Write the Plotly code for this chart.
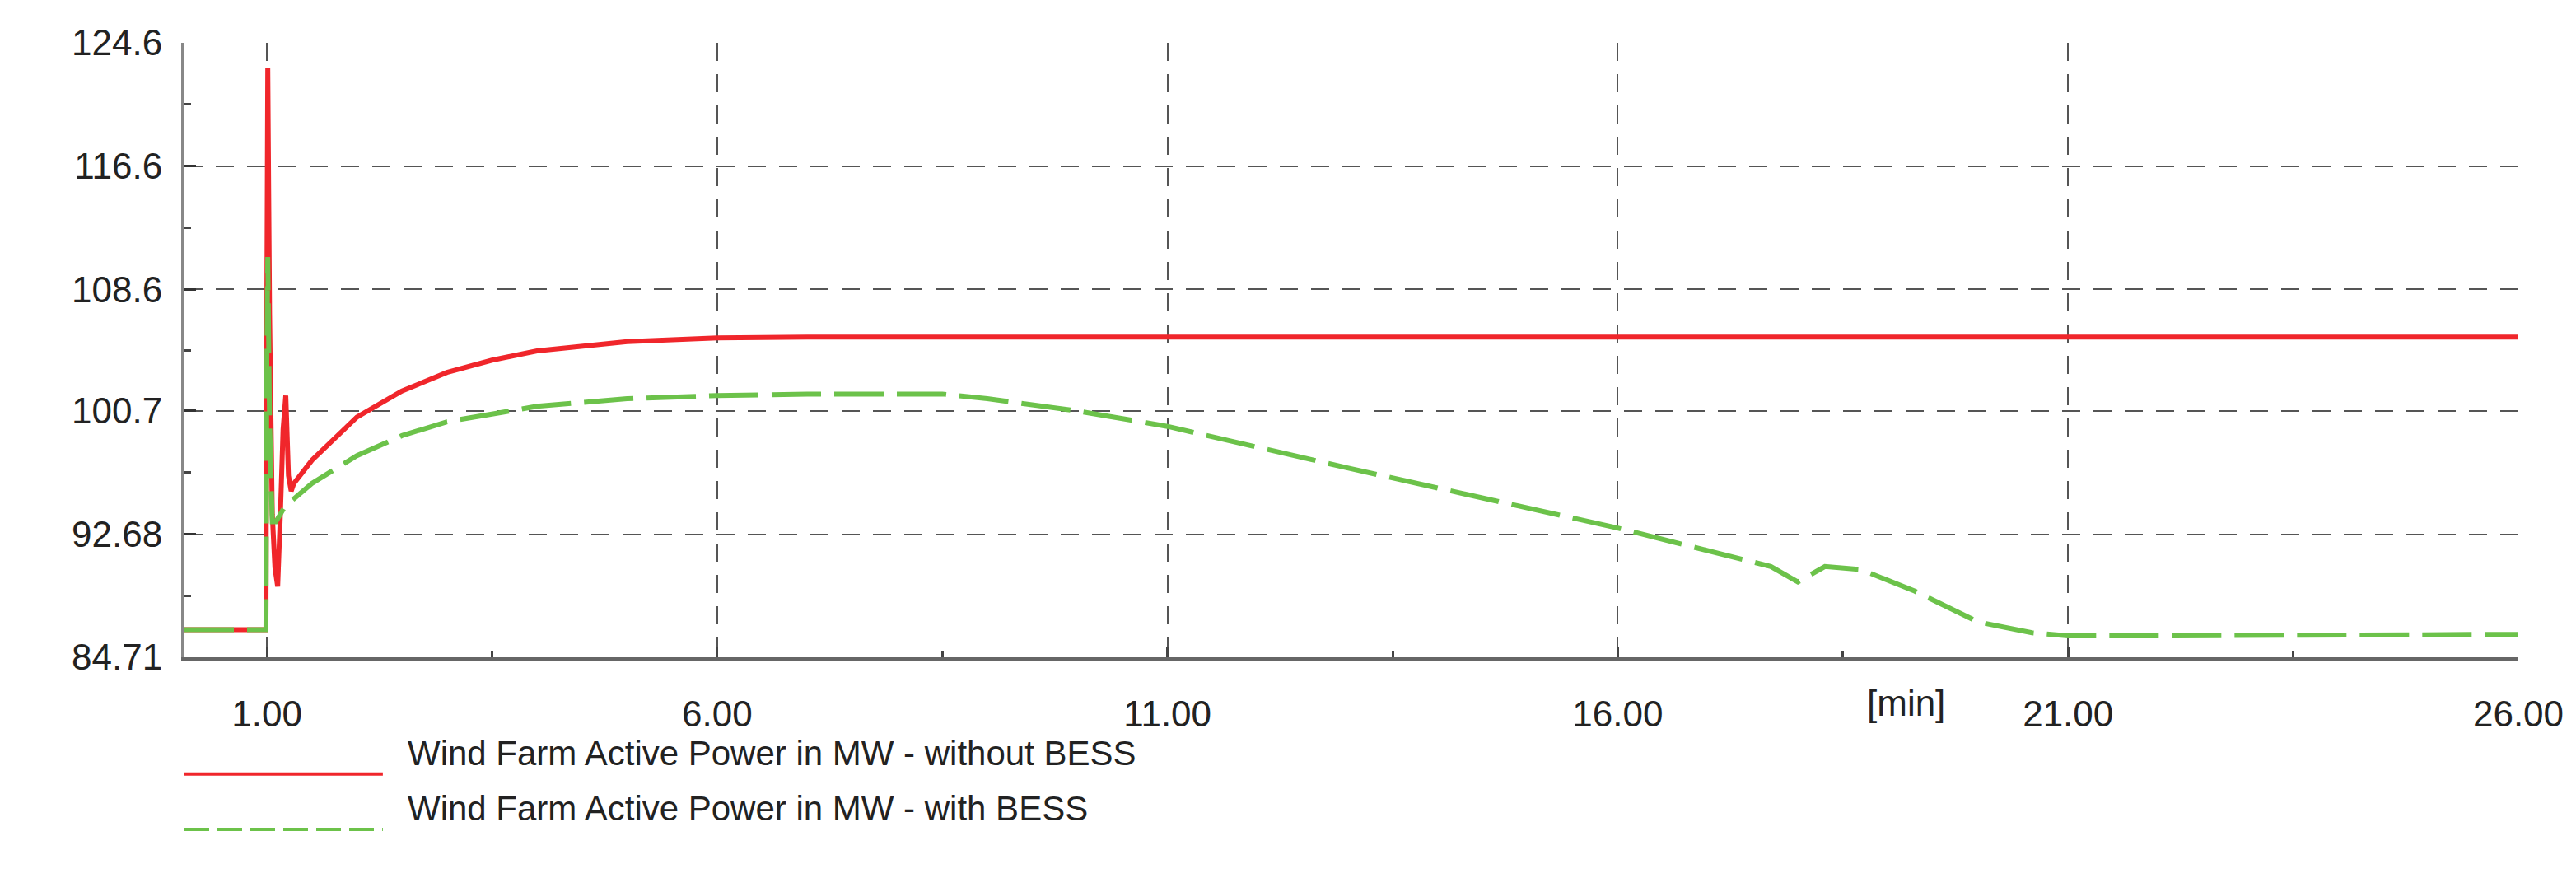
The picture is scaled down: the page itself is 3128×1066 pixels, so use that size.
import plotly.graph_objects as go

red_t = [0.085, 0.99, 1.0, 1.01, 1.03, 1.06, 1.09, 1.12, 1.15, 1.18, 1.21, 1.24, 1.27, 1.3, 1.5, 2.0, 2.5, 3.0, 3.5, 4.0, 5.0, 6.0, 7.0, 26.0]
red_p = [86.5, 86.5, 108.0, 123.0, 107.0, 94.0, 90.5, 89.3, 94.0, 99.5, 101.7, 96.5, 95.5, 96.0, 97.5, 100.3, 102.0, 103.2, 104.0, 104.6, 105.2, 105.45, 105.5, 105.5]
green_t = [0.085, 0.99, 1.0, 1.01, 1.03, 1.06, 1.1, 1.2, 1.5, 2.0, 2.5, 3.0, 4.0, 5.0, 6.0, 7.0, 8.5, 9.0, 10.0, 11.0, 13.0, 16.0, 17.7, 18.0, 18.3, 18.7, 19.3, 20.0, 20.6, 21.0, 22.0, 26.0]
green_p = [86.5, 86.5, 104.0, 110.7, 100.0, 93.5, 93.5, 94.5, 96.0, 97.8, 99.1, 100.0, 101.0, 101.5, 101.7, 101.8, 101.8, 101.5, 100.7, 99.7, 97.0, 93.1, 90.6, 89.6, 90.6, 90.4, 89.0, 87.0, 86.3, 86.1, 86.1, 86.2]
y_ticks = [124.6, 116.6, 108.6, 100.7, 92.68, 84.71]
x_ticks = [1, 6, 11, 16, 21, 26]
legend_names = ["Wind Farm Active Power in MW - without BESS", "Wind Farm Active Power in MW - with BESS"]

RED = "#f0262b"; GREEN = "#6cc24a"
FONT = "Liberation Sans"
fig = go.Figure()
fig.add_trace(go.Scatter(x=red_t, y=red_p, mode="lines", line=dict(color=RED, width=6), name=legend_names[0]))
fig.add_trace(go.Scatter(x=green_t, y=green_p, mode="lines", line=dict(color=GREEN, width=6, dash="60px,16px"), name=legend_names[1]))

grid = dict(showgrid=True, gridcolor="#555555", gridwidth=2, griddash="22px,16px")
fig.update_xaxes(range=[0.085, 26.0], tickvals=x_ticks, ticktext=["%.2f" % v for v in x_ticks],
                 showline=True, linecolor="#666666", linewidth=5, ticks="inside", ticklen=12, tickcolor="#444",
                 tickwidth=3, minor=dict(ticks="inside", ticklen=8, dtick=2.5, tick0=1, tickcolor="#444"),
                 ticklabelstandoff=26,
                 tickfont=dict(size=44, color="#222", family=FONT), zeroline=False, **grid)
fig.update_yaxes(range=[84.71, 124.6], tickvals=y_ticks, ticktext=["124.6", "116.6", "108.6", "100.7", "92.68", "84.71"],
                 showline=True, linecolor="#888888", linewidth=4, ticks="inside", ticklen=14, tickcolor="#333",
                 tickwidth=3, minor=dict(ticks="inside", ticklen=8, tickvals=[120.6, 112.6, 104.65, 96.7, 88.7], tickcolor="#444"),
                 ticklabelstandoff=14,
                 tickfont=dict(size=44, color="#222", family=FONT), zeroline=False, **grid)

y1, y2 = -0.19, -0.28
shapes = [
    dict(type="line", xref="paper", yref="paper", x0=0.0, x1=0.085, y0=y1, y1=y1, line=dict(color=RED, width=4)),
    dict(type="line", xref="paper", yref="paper", x0=0.0, x1=0.085, y0=y2, y1=y2, line=dict(color=GREEN, width=4, dash="30px,10px")),
]
annotations = [
    dict(xref="paper", yref="paper", x=0.095, y=y1, text=legend_names[0], showarrow=False, xanchor="left", font=dict(size=42, color="#222", family=FONT)),
    dict(xref="paper", yref="paper", x=0.095, y=y2, text=legend_names[1], showarrow=False, xanchor="left", font=dict(size=42, color="#222", family=FONT)),
    dict(xref="x", yref="paper", x=19.2, y=-0.11, text="[min]", showarrow=False, font=dict(size=44, color="#222", family=FONT)),
]
fig.update_layout(width=3128, height=1066, plot_bgcolor="white", paper_bgcolor="white", showlegend=False,
                  margin=dict(l=216, r=78, t=44, b=276), shapes=shapes, annotations=annotations)
fig.write_html("out.html")
